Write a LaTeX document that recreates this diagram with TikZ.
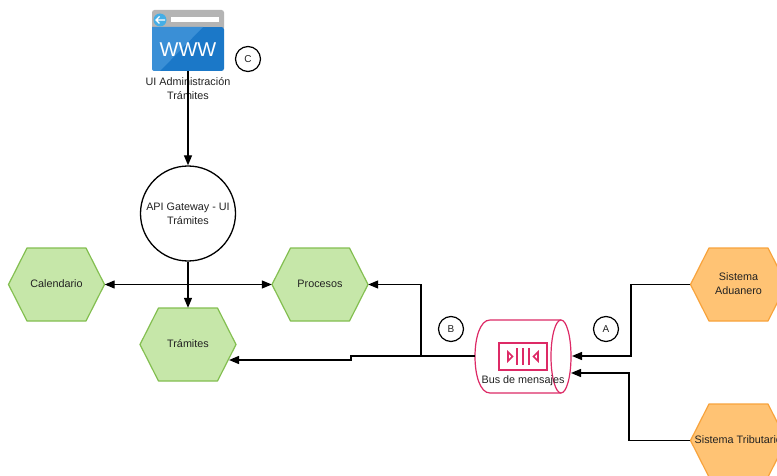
\documentclass[tikz,border=0pt]{standalone}
\usepackage{fontspec}
\setmainfont{Liberation Sans}
\usetikzlibrary{arrows.meta,calc}
\definecolor{hgreenfill}{HTML}{C6E7A9}
\definecolor{hgreenline}{HTML}{83BF50}
\definecolor{horangefill}{HTML}{FFC374}
\definecolor{horangeline}{HTML}{F8A33C}
\definecolor{buspink}{HTML}{DD2A66}
\definecolor{wwwblue}{HTML}{1B78C8}
\definecolor{wwwlight}{HTML}{3A8FD6}
\definecolor{wwwgrey}{HTML}{B4B4B4}
\definecolor{wwwback}{HTML}{45AEE6}
\definecolor{txt}{HTML}{222222}
\newcommand{\hexnode}[6]{%
  \path[#4] (#2-48,#3) -- (#2-29.5,#3-36.5) -- (#2+29.5,#3-36.5) -- (#2+48,#3) -- (#2+29.5,#3+36.5) -- (#2-29.5,#3+36.5) -- cycle;
  \node[hexbox] (#1) at (#2,#3) {};
  \node[lab] (#1text) at (#2,#3-1) {#5};
}
\tikzset{
  x=1pt,y=-1pt,
  lab/.style={font=\fontsize{10.8}{14}\selectfont,text=txt,align=center,inner sep=0pt},
  hexbox/.style={lab,minimum width=96pt,minimum height=73pt},
  greenhex/.style={fill=hgreenfill,draw=hgreenline,line width=1.2pt,line join=round},
  orangehex/.style={fill=horangefill,draw=horangeline,line width=1.2pt,line join=round},
  conn/.style={draw=black,line width=1.3pt},
  arr/.style={conn,-{Triangle[length=10pt,width=8pt]}},
  dblarr/.style={conn,{Triangle[length=10pt,width=8pt]}-{Triangle[length=10pt,width=8pt]}},
  tagc/.style={circle,draw=black,line width=1.2pt,minimum size=25pt,inner sep=0pt,font=\fontsize{10}{12}\selectfont,text=txt},
  buspen/.style={draw=buspink,line width=1.2pt},
}
\begin{document}
\begin{tikzpicture}
\useasboundingbox (0,0) rectangle (777,476);
\fill[white] (0,0) rectangle (777,476);

% WWW icon
\node[minimum width=72pt,minimum height=61pt,inner sep=0pt] (www) at (188,40.5) {};
\fill[wwwgrey,rounded corners=2.5pt] (152,10) rectangle (224,30);
\fill[wwwblue,rounded corners=2.5pt] (152,27) rectangle (224,71);
\fill[wwwgrey] (152,24) rectangle (224,27);
\fill[wwwlight] (152,27) -- (203,27) -- (160,71) -- (154,71) -- (152,69) -- cycle;
\fill[white] (171,17) rectangle (219,22.5);
\fill[wwwback] (160,20) circle (6.5);
\draw[white,line width=1.2pt] (156,20) -- (165,20) (159.5,16.5) -- (156,20) -- (159.5,23.5);
\node[inner sep=0pt,text=white,font=\fontsize{20}{20}\selectfont] (wwwtext) at (188,50) {WWW};
\node[lab] (uilabel) at (188,88.5) {UI Administración\\Trámites};

% Tags
\node[tagc] (tagC) at (248,59) {C};
\node[tagc] (tagB) at (451,329) {B};
\node[tagc] (tagA) at (606,329) {A};

% Gateway
\node[circle,draw=black,line width=1.3pt,fill=white,minimum size=95pt,inner sep=0pt,lab] (gw) at (188,213.5) {API Gateway - UI\\Trámites};

% Hexagons
\hexnode{cal}{56.5}{284.5}{greenhex}{Calendario}{}
\hexnode{proc}{320}{284.5}{greenhex}{Procesos}{}
\hexnode{tram}{188}{344.5}{greenhex}{Trámites}{}
\hexnode{adu}{738.5}{284.5}{orangehex}{Sistema\\Aduanero}{}
\hexnode{trib}{738.5}{440.5}{orangehex}{}{}
\node[lab,anchor=west] (tribtext) at (694.5,440) {Sistema Tributario};

% Bus
\node[minimum width=96pt,minimum height=73pt,inner sep=0pt] (bus) at (523,356.5) {};
\path[buspen,fill=white] (561,320) -- (490,320) .. controls (480,320) and (475,338) .. (475,356.5) .. controls (475,375) and (480,393) .. (490,393) -- (561,393);
\draw[buspen,fill=white] (561,356.5) ellipse [x radius=10,y radius=36.5];
\draw[draw=buspink,line width=2pt] (499,343) rectangle (547,370);
\draw[draw=buspink,line width=1.6pt] (517,348) -- (517,365) (523,348) -- (523,365) (529,348) -- (529,365);
\draw[draw=buspink,line width=1.6pt,line join=miter] (508,352) -- (512.5,356.5) -- (508,361) -- cycle;
\draw[draw=buspink,line width=1.6pt,line join=miter] (538,352) -- (533.5,356.5) -- (538,361) -- cycle;
\node[lab] (buslabel) at (523,381) {Bus de mensajes};

% Connectors
\draw[arr] (www.south) -- (gw.north);
\draw[arr] (gw.south) -- (tram.north);
\draw[dblarr] (cal.east) -- (proc.west);
\coordinate (busin) at (475,356);
\coordinate (jog) at (351,356);
\coordinate (tramin) at (229,360);
\coordinate (split) at (421,356);
\draw[arr] (busin) -- (jog) -- (351,360) -- (tramin);
\draw[arr] (split) |- (proc.east);
\coordinate (busA) at (572,356);
\coordinate (busB) at (571,373);
\draw[arr] (adu.west) -- (631,284.5) -- (631,356) -- (busA);
\draw[arr] (trib.west) -- (629,440.5) -- (629,373) -- (busB);
\end{tikzpicture}
\end{document}
